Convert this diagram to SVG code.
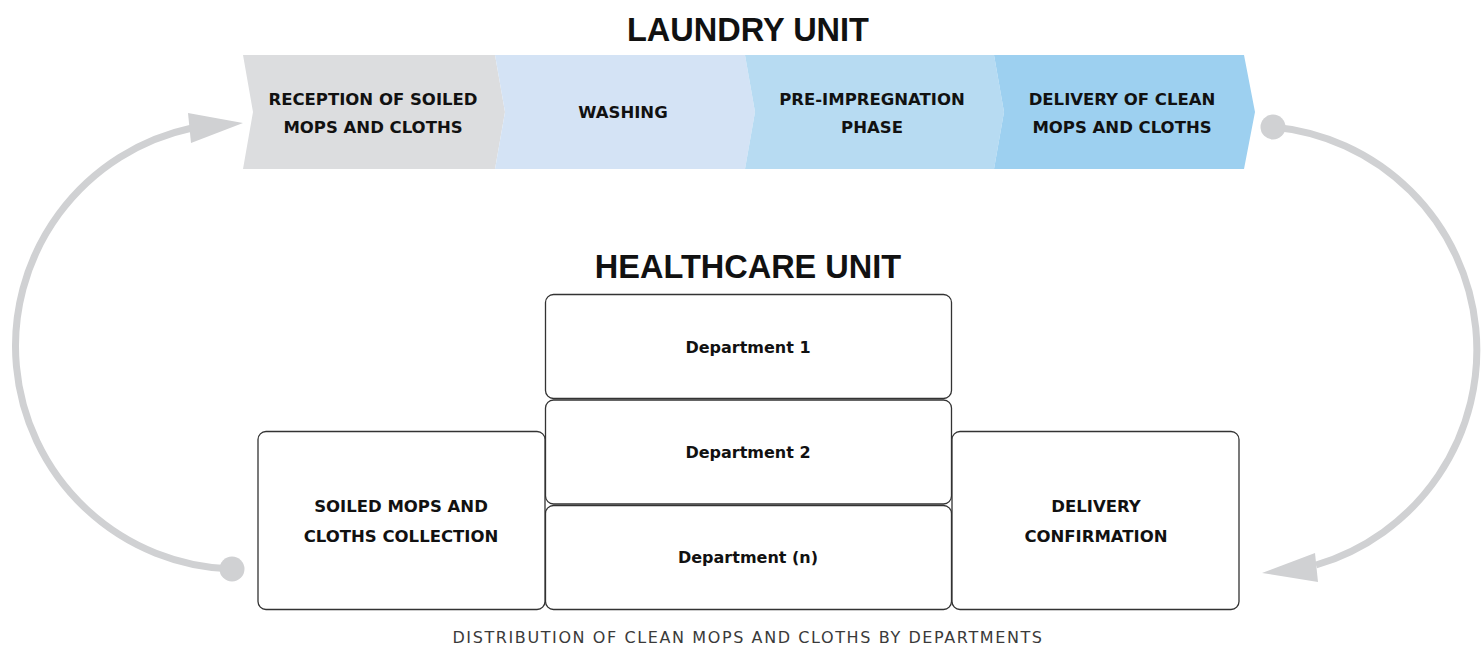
<svg xmlns="http://www.w3.org/2000/svg" width="1484" height="652" viewBox="0 0 1484 652">
  <style>
    .title { font-family: "Liberation Sans", Arial, sans-serif; font-weight: bold; font-size: 32.5px; fill: #111; text-anchor: middle; }
    .lbl { font-family: "DejaVu Sans", "Liberation Sans", sans-serif; font-weight: bold; font-size: 16.5px; fill: #111; text-anchor: middle; }
    .dep { font-family: "DejaVu Sans", "Liberation Sans", sans-serif; font-weight: bold; font-size: 16px; fill: #111; text-anchor: middle; }
    .cap { font-family: "DejaVu Sans", "Liberation Sans", sans-serif; font-size: 16px; letter-spacing: 1.6px; fill: #3a3a3a; text-anchor: middle; }
    .box { fill: #ffffff; stroke: #333333; stroke-width: 1.3; }
    .arc { fill: none; stroke: #d0d1d3; stroke-width: 7; }
    .arcfill { fill: #d0d1d3; }
  </style>

  <text class="title" x="748" y="41">LAUNDRY UNIT</text>

  <g id="step-reception">
    <polygon points="243,55 495,55 505,112 495,169 243,169 253,112" fill="#dcdddf"/>
    <text class="lbl" x="373" y="105">RECEPTION OF SOILED</text>
    <text class="lbl" x="373" y="133">MOPS AND CLOTHS</text>
  </g>
  <g id="step-washing">
    <polygon points="495,55 745,55 755,112 745,169 495,169 505,112" fill="#d4e3f5"/>
    <text class="lbl" x="623" y="118">WASHING</text>
  </g>
  <g id="step-preimpregnation">
    <polygon points="745,55 994,55 1004,112 994,169 745,169 755,112" fill="#b7dbf2"/>
    <text class="lbl" x="872" y="105">PRE-IMPREGNATION</text>
    <text class="lbl" x="872" y="133">PHASE</text>
  </g>
  <g id="step-delivery">
    <polygon points="994,55 1244,55 1255,112 1244,169 994,169 1004,112" fill="#9dd0f0"/>
    <text class="lbl" x="1122" y="105">DELIVERY OF CLEAN</text>
    <text class="lbl" x="1122" y="133">MOPS AND CLOTHS</text>
  </g>

  <text class="title" x="748" y="278">HEALTHCARE UNIT</text>

  <g id="dept-1">
    <rect class="box" x="545.5" y="294.5" width="406" height="104" rx="8"/>
    <text class="dep" x="748" y="353">Department 1</text>
  </g>
  <g id="dept-2">
    <rect class="box" x="545.5" y="400" width="406" height="104" rx="8"/>
    <text class="dep" x="748" y="458">Department 2</text>
  </g>
  <g id="dept-n">
    <rect class="box" x="545.5" y="505.5" width="406" height="104" rx="8"/>
    <text class="dep" x="748" y="563">Department (n)</text>
  </g>
  <g id="collection">
    <rect class="box" x="258" y="431.5" width="287" height="178" rx="8"/>
    <text class="lbl" x="401" y="512">SOILED MOPS AND</text>
    <text class="lbl" x="401" y="542">CLOTHS COLLECTION</text>
  </g>
  <g id="confirmation">
    <rect class="box" x="952" y="431.5" width="287" height="178" rx="8"/>
    <text class="lbl" x="1096" y="512">DELIVERY</text>
    <text class="lbl" x="1096" y="542">CONFIRMATION</text>
  </g>

  <g id="connectors">
    <path class="arc" d="M 232 569 A 223 223 0 0 1 192 128"/>
    <circle class="arcfill" cx="232" cy="569" r="12.5"/>
    <polygon class="arcfill" points="243,123 188,113 191,143"/>
    <path class="arc" d="M 1273 127 A 224 224 0 0 1 1316 565"/>
    <circle class="arcfill" cx="1273" cy="127" r="12.5"/>
    <polygon class="arcfill" points="1262,573 1315,553 1318,582"/>
  </g>

  <text class="cap" x="748" y="643">DISTRIBUTION OF CLEAN MOPS AND CLOTHS BY DEPARTMENTS</text>
</svg>
